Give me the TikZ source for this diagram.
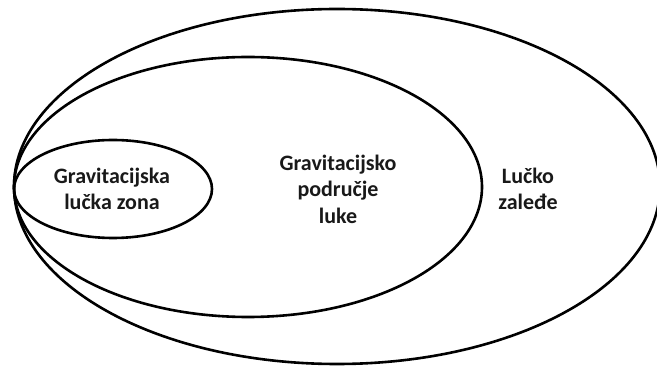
\documentclass[tikz,border=0pt]{standalone}
\usepackage{fontspec}
\setmainfont{Carlito}
\begin{document}
\begin{tikzpicture}[x=1pt,y=1pt,
  ring/.style={draw=black,line width=2.6pt},
  lbl/.style={font=\bfseries\fontsize{22}{26.5}\selectfont,align=center,text=black!90}]
\useasboundingbox (0,0) rectangle (657,367);
\fill[white] (0,0) rectangle (657,367);
\draw[ring] (337,180.5) ellipse [x radius=323, y radius=177.5];
\draw[ring] (248,180) ellipse [x radius=234, y radius=130];
\draw[ring] (113,178) ellipse [x radius=99, y radius=49];
\node[lbl] (inner) at (112,178) {Gravitacijska\\lučka zona};
\node[lbl] (middle) at (338,178) {Gravitacijsko\\područje\\luke};
\node[lbl] (outer) at (528,178) {Lučko\\zaleđe};
\end{tikzpicture}
\end{document}
